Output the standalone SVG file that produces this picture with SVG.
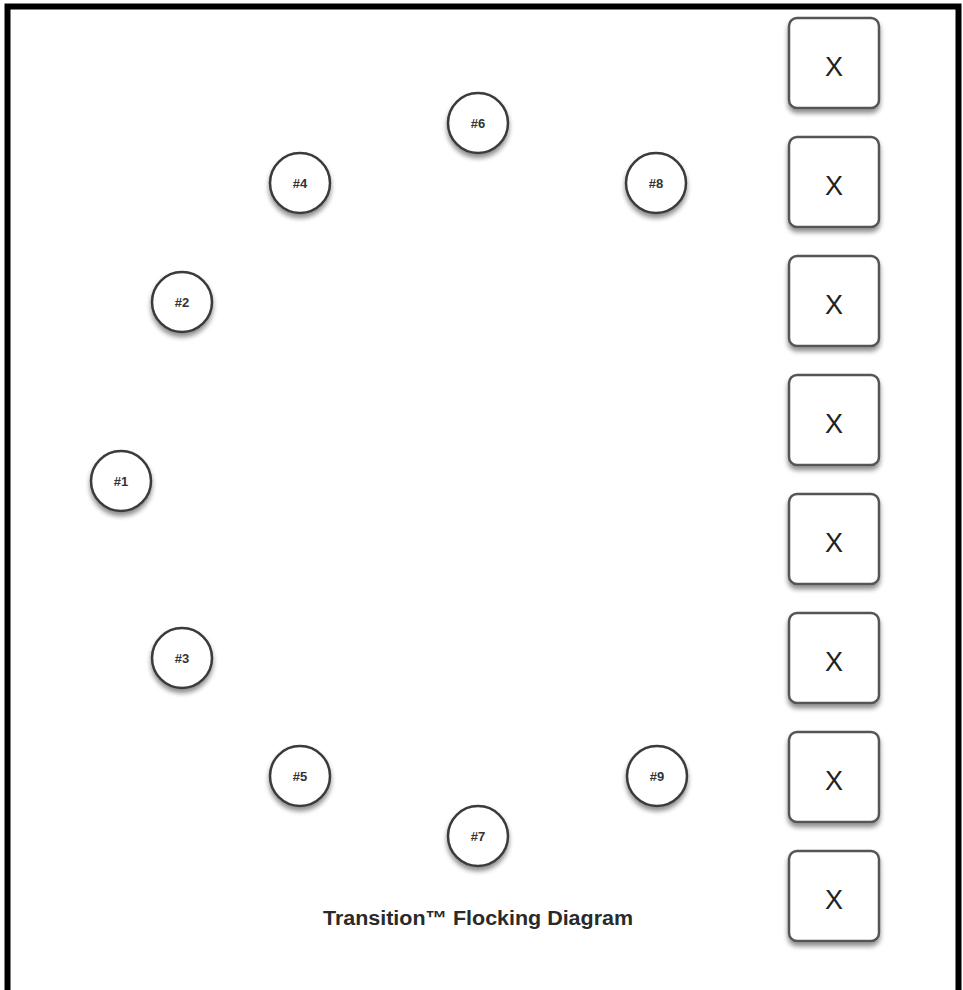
<svg xmlns="http://www.w3.org/2000/svg" width="963" height="990" viewBox="0 0 963 990">
<defs>
<filter id="sh" x="-30%" y="-30%" width="160%" height="170%">
<feGaussianBlur in="SourceAlpha" stdDeviation="2.5"/>
<feOffset dx="0" dy="4" result="b"/>
<feComponentTransfer><feFuncA type="linear" slope="0.45"/></feComponentTransfer>
<feMerge><feMergeNode/><feMergeNode in="SourceGraphic"/></feMerge>
</filter>
</defs>
<style>
.c{fill:#fff;stroke:#3a3a3a;stroke-width:2.5;filter:url(#sh)}
.b{fill:#fff;stroke:#555;stroke-width:2.5;filter:url(#sh)}
.ct{font-family:"Liberation Sans",Arial,sans-serif;font-size:13px;font-weight:bold;fill:#333;text-anchor:middle}
.bt{font-family:"Liberation Sans",Arial,sans-serif;font-size:27px;fill:#222;text-anchor:middle}
.tt{font-family:"Liberation Sans",Arial,sans-serif;font-size:20px;font-weight:bold;fill:#2a2a2a;text-anchor:middle}
</style>
<rect x="0" y="0" width="963" height="990" fill="#fff"/>
<path d="M7.5 990 V6.5 H958.5 V990" fill="none" stroke="#000" stroke-width="6"/>
<g id="connectors"/>
<g id="n6"><circle class="c" cx="478" cy="123" r="30"/><text class="ct" x="478" y="128">#6</text></g>
<g id="n4"><circle class="c" cx="300" cy="183" r="30"/><text class="ct" x="300" y="188">#4</text></g>
<g id="n8"><circle class="c" cx="656" cy="183" r="30"/><text class="ct" x="656" y="188">#8</text></g>
<g id="n2"><circle class="c" cx="182" cy="302" r="30"/><text class="ct" x="182" y="307">#2</text></g>
<g id="n1"><circle class="c" cx="121" cy="481" r="30"/><text class="ct" x="121" y="486">#1</text></g>
<g id="n3"><circle class="c" cx="182" cy="658" r="30"/><text class="ct" x="182" y="663">#3</text></g>
<g id="n5"><circle class="c" cx="300" cy="776" r="30"/><text class="ct" x="300" y="781">#5</text></g>
<g id="n9"><circle class="c" cx="657" cy="776" r="30"/><text class="ct" x="657" y="781">#9</text></g>
<g id="n7"><circle class="c" cx="478" cy="836" r="30"/><text class="ct" x="478" y="841">#7</text></g>
<g id="x1"><rect class="b" x="789" y="18" width="90" height="90" rx="8"/><text class="bt" x="834" y="76">X</text></g>
<g id="x2"><rect class="b" x="789" y="137" width="90" height="90" rx="8"/><text class="bt" x="834" y="195">X</text></g>
<g id="x3"><rect class="b" x="789" y="256" width="90" height="90" rx="8"/><text class="bt" x="834" y="314">X</text></g>
<g id="x4"><rect class="b" x="789" y="375" width="90" height="90" rx="8"/><text class="bt" x="834" y="433">X</text></g>
<g id="x5"><rect class="b" x="789" y="494" width="90" height="90" rx="8"/><text class="bt" x="834" y="552">X</text></g>
<g id="x6"><rect class="b" x="789" y="613" width="90" height="90" rx="8"/><text class="bt" x="834" y="671">X</text></g>
<g id="x7"><rect class="b" x="789" y="732" width="90" height="90" rx="8"/><text class="bt" x="834" y="790">X</text></g>
<g id="x8"><rect class="b" x="789" y="851" width="90" height="90" rx="8"/><text class="bt" x="834" y="909">X</text></g>
<g id="title"><text class="tt" x="478" y="925" textLength="310" lengthAdjust="spacingAndGlyphs">Transition™ Flocking Diagram</text></g>
</svg>
